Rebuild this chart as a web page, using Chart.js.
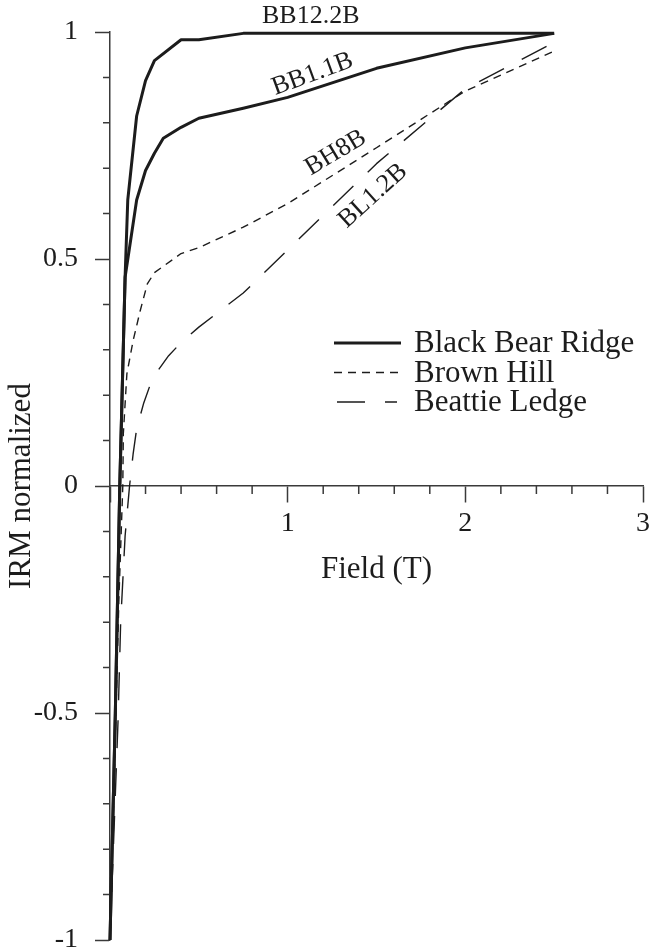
<!DOCTYPE html>
<html>
<head>
<meta charset="utf-8">
<script src="https://cdn.jsdelivr.net/npm/chart.js@4.4.1/dist/chart.umd.min.js"></script>
<style>
  html, body { margin: 0; padding: 0; background: #fff; }
  #wrap { width: 655px; height: 948px; }
</style>
</head>
<body>
<div id="wrap"><canvas id="irmChart" width="655" height="948"></canvas></div>
<script>
// IRM acquisition curves
var fieldBB122 = [0, 0.03, 0.055, 0.085, 0.1, 0.15, 0.2, 0.25, 0.4, 0.5, 0.75, 1.0, 1.5, 2.0, 2.5]
var irmBB122   = [-1, -0.5, 0, 0.46, 0.63, 0.815, 0.893, 0.937, 0.983, 0.983, 0.997, 0.997, 0.997, 0.997, 0.997]

var fieldBB11 = [0, 0.03, 0.055, 0.085, 0.15, 0.2, 0.25, 0.3, 0.4, 0.5, 0.75, 1.0, 1.5, 2.0, 2.5]
var irmBB11   = [-1, -0.5, 0, 0.46, 0.63, 0.695, 0.733, 0.766, 0.79, 0.81, 0.832, 0.856, 0.92, 0.965, 0.997]

var fieldBH8 = [0, 0.03, 0.05, 0.072, 0.075, 0.095, 0.13, 0.17, 0.21, 0.25, 0.4, 0.5, 0.75, 1.0, 1.5, 2.0, 2.5]
var irmBH8   = [-1, -0.55, -0.25, 0, 0.115, 0.247, 0.32, 0.386, 0.445, 0.47, 0.512, 0.525, 0.57, 0.622, 0.745, 0.87, 0.958]

var fieldBL12 = [0, 0.045, 0.06, 0.085, 0.11, 0.13, 0.15, 0.19, 0.24, 0.33, 0.4, 0.5, 0.75, 1.0, 1.5, 2.0, 2.5]
var irmBL12   = [-1, -0.52, -0.3, -0.11, 0, 0.07, 0.126, 0.183, 0.238, 0.287, 0.316, 0.35, 0.425, 0.52, 0.71, 0.875, 0.977]

var siteNames = ['Black Bear Ridge', 'Brown Hill', 'Beattie Ledge']
var curveNames = ['BB12.2B', 'BB1.1B', 'BH8B', 'BL1.2B']

var ink = '#1c1c1c'
var axisInk = '#3a3a3a'
var serif = '"Liberation Serif", "Times New Roman", serif'

function pts(xs, ys) {
    return xs.map(function(x, i){ return {x: x, y: ys[i]} })
}
function isHalf(v) { return Math.abs(v * 2 - Math.round(v * 2)) < 1e-6 }
function isWhole(v) { return Math.abs(v - Math.round(v)) < 1e-6 }

var solid = [], shortDash = [8, 6], longDash = [28, 20]

// curve name tags: position in data units, angle in degrees
var tags = [
    {x: 1.13, y: 1.034, a: 0},
    {x: 1.14, y: 0.907, a: -20},
    {x: 1.27, y: 0.734, a: -31},
    {x: 1.48, y: 0.639, a: -42}
]

var extras = {
    id: 'extras',
    beforeDatasetsDraw: function(chart) {
        var ctx = chart.ctx, xs = chart.scales.x, ys = chart.scales.y
        var y0 = ys.getPixelForValue(0), left = chart.chartArea.left
        ctx.save()
        ctx.strokeStyle = axisInk
        ctx.lineWidth = 1.5
        ctx.beginPath()
        xs.ticks.forEach(function(t){
            if (isWhole(t.value)) return
            var px = xs.getPixelForValue(t.value)
            ctx.moveTo(px, y0); ctx.lineTo(px, y0 + 8)
        })
        ys.ticks.forEach(function(t){
            if (isHalf(t.value)) return
            var py = ys.getPixelForValue(t.value)
            ctx.moveTo(left - 7, py); ctx.lineTo(left, py)
        })
        ctx.stroke()
        ctx.restore()
    },
    afterDraw: function(chart) {
        var ctx = chart.ctx, xs = chart.scales.x, ys = chart.scales.y
        ctx.save()
        ctx.fillStyle = ink
        ctx.font = '26px ' + serif
        ctx.textAlign = 'center'
        ctx.textBaseline = 'middle'
        tags.forEach(function(t, i){
            ctx.save()
            ctx.translate(xs.getPixelForValue(t.x), ys.getPixelForValue(t.y))
            ctx.rotate(t.a * Math.PI / 180)
            ctx.fillText(curveNames[i], 0, 0)
            ctx.restore()
        })

        // legend, one row per site
        var rows = [0, 2, 3]
        ctx.font = '31px ' + serif
        ctx.textAlign = 'left'
        rows.forEach(function(di, r){
            var ds = chart.data.datasets[di]
            var y = 343 + r * 29.5
            ctx.strokeStyle = ink
            ctx.lineWidth = ds.borderWidth
            ctx.setLineDash(ds.borderDash)
            ctx.beginPath()
            ctx.moveTo(r == 2 ? 337 : 334, y)
            ctx.lineTo(r == 2 ? 397 : 401, y)
            ctx.stroke()
            ctx.setLineDash([])
            ctx.fillText(siteNames[r], 414, y + 1)
        })
        ctx.restore()
    }
}

var chart = new Chart(document.getElementById('irmChart'), {
    type: 'line',
    data: {
        datasets: [
            {label: curveNames[0], data: pts(fieldBB122, irmBB122), borderColor: ink, borderWidth: 3, borderDash: solid},
            {label: curveNames[1], data: pts(fieldBB11, irmBB11), borderColor: ink, borderWidth: 3, borderDash: solid},
            {label: curveNames[2], data: pts(fieldBH8, irmBH8), borderColor: ink, borderWidth: 1.4, borderDash: shortDash},
            {label: curveNames[3], data: pts(fieldBL12, irmBL12), borderColor: ink, borderWidth: 1.4, borderDash: longDash}
        ]
    },
    options: {
        responsive: false,
        animation: false,
        events: [],
        devicePixelRatio: 1,
        layout: {padding: {top: 32, right: 12, bottom: 8, left: 0}},
        elements: {
            point: {radius: 0},
            line: {tension: 0, fill: false, borderCapStyle: 'butt', borderJoinStyle: 'round'}
        },
        datasets: {line: {clip: false}},
        plugins: {legend: {display: false}, tooltip: {enabled: false}},
        scales: {
            x: {
                type: 'linear',
                position: {y: 0},
                min: 0, max: 3,
                afterFit: function(s){ s.paddingLeft = 0; s.paddingRight = 0 },
                border: {display: true, color: axisInk, width: 1.5},
                grid: {
                    drawOnChartArea: false, drawTicks: true, tickLength: 16, tickWidth: 1.5,
                    tickColor: function(c){ return c.tick && isWhole(c.tick.value) ? axisInk : 'rgba(0,0,0,0)' }
                },
                ticks: {
                    stepSize: 0.2, autoSkip: false, maxRotation: 0, padding: 8,
                    color: ink, font: {family: serif, size: 28, lineHeight: 1},
                    callback: function(v){ return (isWhole(v) && v > 0) ? String(Math.round(v)) : '' }
                },
                title: {
                    display: true, text: 'Field (T)', color: ink,
                    font: {family: serif, size: 31, lineHeight: 1}, padding: {top: 8, bottom: 0}
                }
            },
            y: {
                type: 'linear',
                position: 'left',
                min: -1, max: 1,
                afterFit: function(s){ s.width = 110; s.paddingTop = 0; s.paddingBottom = 0 },
                border: {display: true, color: axisInk, width: 1.5},
                grid: {
                    drawOnChartArea: false, drawTicks: true, tickLength: 15, tickWidth: 1.5,
                    tickColor: function(c){ return c.tick && isHalf(c.tick.value) ? axisInk : 'rgba(0,0,0,0)' }
                },
                ticks: {
                    stepSize: 0.1, autoSkip: false, padding: 17,
                    color: ink, font: {family: serif, size: 28, lineHeight: 1},
                    callback: function(v){ return isHalf(v) ? String(Math.round(v * 10) / 10) : '' }
                },
                title: {
                    display: true, text: 'IRM normalized', color: ink,
                    font: {family: serif, size: 31, lineHeight: 1}, padding: {top: 6, bottom: 0}
                }
            }
        }
    },
    plugins: [extras]
})
</script>
</body>
</html>
